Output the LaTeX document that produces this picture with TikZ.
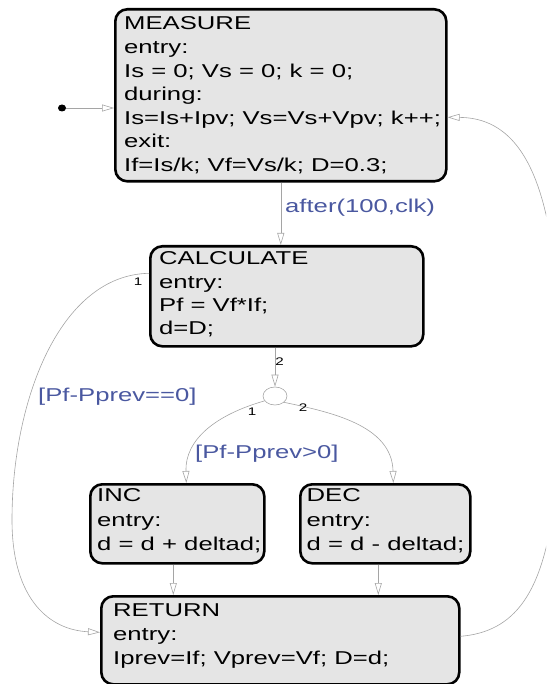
\documentclass[tikz,border=0pt]{standalone}
\usepackage{fontspec}
\setmainfont{Liberation Sans}[FakeStretch=1.38]
\usetikzlibrary{arrows.meta,shapes.geometric}
\definecolor{boxgray}{RGB}{229,229,229}
\definecolor{linegray}{RGB}{165,165,165}
\definecolor{guardblue}{RGB}{74,88,160}
\newcommand{\stfont}[1]{\fontsize{18.6}{#1}\selectfont}
\tikzset{
  statebox/.style={draw=black, line width=2.6pt, rounded corners=12pt, fill=boxgray,
    inner sep=0pt, anchor=north west},
  statetext/.style={anchor=north west, inner sep=0pt, align=left, text=black},
  trans/.style={draw=linegray, line width=0.6pt,
    -{Triangle[open, length=12pt, width=7pt, line width=0.6pt]}},
  guard/.style={text=guardblue, inner sep=0pt, anchor=base west, font=\stfont{22}},
  num/.style={text=black, inner sep=0pt, font=\fontsize{11}{13}\selectfont},
}
\begin{document}
\begin{tikzpicture}[x=1pt, y=-1pt]
\useasboundingbox (0,0) rectangle (546,684);
\clip (0,0) rectangle (546,684);
% state boxes
\node[statebox, minimum width=331pt, minimum height=172pt] (measure) at (114,8) {};
\node[statetext, font=\stfont{23.6}] (measuretxt) at (124,16.7)
  {MEASURE\\entry:\\Is = 0; Vs = 0; k = 0;\\during:\\Is=Is+Ipv; Vs=Vs+Vpv; k++;\\exit:\\If=Is/k; Vf=Vs/k; D=0.3;};
\node[statebox, minimum width=273pt, minimum height=100pt] (calc) at (149,245) {};
\node[statetext, font=\stfont{23.2}] (calctxt) at (159,251.7)
  {CALCULATE\\entry:\\Pf = Vf*If;\\d=D;};
\node[statebox, minimum width=174pt, minimum height=79pt] (inc) at (89,483) {};
\node[statetext, font=\stfont{24.5}] (inctxt) at (97,488.4)
  {INC\\entry:\\d = d + deltad;};
\node[statebox, minimum width=170pt, minimum height=79pt] (dec) at (299,483) {};
\node[statetext, font=\stfont{24.5}] (dectxt) at (306.5,488.4)
  {DEC\\entry:\\d = d - deltad;};
\node[statebox, minimum width=358pt, minimum height=88pt] (ret) at (100,595) {};
\node[statetext, font=\stfont{24.2}] (rettxt) at (113,603.4)
  {RETURN\\entry:\\Iprev=If; Vprev=Vf; D=d;};
% junction and default dot
\node[ellipse, draw=linegray, line width=0.6pt, minimum width=24pt, minimum height=18pt, inner sep=0pt] (junc) at (275,396) {};
\node[ellipse, fill=black, minimum width=8pt, minimum height=7pt, inner sep=0pt] (dot) at (62,108) {};
% connectors
\draw[trans] (dot) -- (measure.west |- dot);
\draw[trans] (measure.south) -- (measure.south |- calc.north);
\draw[trans] (calc.south -| junc.north) -- (junc.north);
\draw[trans] (junc.205) .. controls (215,415) and (185,440) .. ([xshift=9pt]inc.north);
\draw[trans] (junc.-35) .. controls (330,412) and (392,425) .. ([xshift=8pt]dec.north);
\draw[trans] ([yshift=23pt]calc.west) .. controls (60,275) and (12,400) .. (12,520)
  .. controls (12,600) and (50,630) .. ([yshift=8pt]ret.west);
\draw[trans] ([xshift=-4pt]inc.south) -- ([xshift=-4pt]inc.south |- ret.north);
\draw[trans] ([xshift=-7pt]dec.south) -- ([xshift=-7pt]dec.south |- ret.north);
\draw[trans] ([yshift=4pt]ret.east) .. controls (535,630) and (560,560) .. (560,380)
  .. controls (560,200) and (530,118) .. ([yshift=-22pt]measure.east);
% labels
\node[guard] (lafter) at (285,213) {after(100,clk)};
\node[guard] (leq) at (38,401.7) {[Pf-Pprev==0]};
\node[guard] (lgt) at (195,458) {[Pf-Pprev>0]};
\node[num] (n1) at (279.5,362) {2};
\node[num] (n2) at (138,282) {1};
\node[num] (n3) at (252,412) {1};
\node[num] (n4) at (303,408) {2};
\end{tikzpicture}
\end{document}
